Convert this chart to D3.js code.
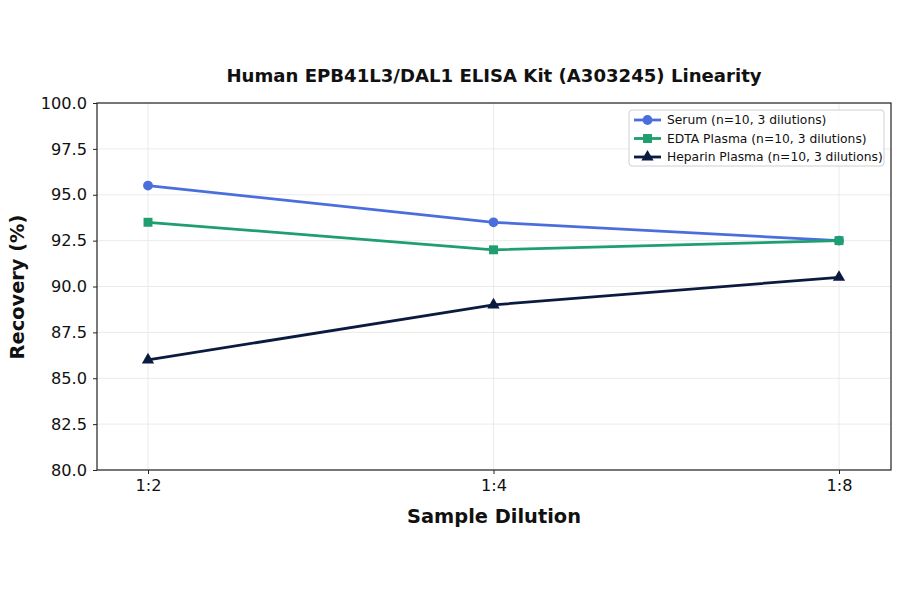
<!DOCTYPE html>
<html><head><meta charset="utf-8">
<script src="https://cdn.jsdelivr.net/npm/d3@7"></script>
<style>body{margin:0;background:#fff;}svg{font-family:"DejaVu Sans",sans-serif;}</style>
</head><body>
<svg id="c" width="900" height="594"></svg>
<script>
const categories = ["1:2","1:4","1:8"];
const serum = [95.5, 93.5, 92.5];
const edta = [93.5, 92.0, 92.5];
const heparin = [86.0, 89.0, 90.5];
const yTicks = [80.0, 82.5, 85.0, 87.5, 90.0, 92.5, 95.0, 97.5, 100.0];
const seriesNames = ["Serum (n=10, 3 dilutions)","EDTA Plasma (n=10, 3 dilutions)","Heparin Plasma (n=10, 3 dilutions)"];
const colors = ["#4a6fdc","#1f9e6f","#0b1a3f"];
const shapes = ["circle","square","triangle"];

const svg = d3.select("#c");
const L=97, R=891, T=103, B=470;
const x = d3.scalePoint().domain(categories).range([148,839]);
const y = d3.scaleLinear().domain([80,100]).range([B,T]);

// grid
svg.append("g").selectAll("line").data(yTicks).join("line")
  .attr("x1",L).attr("x2",R).attr("y1",d=>y(d)).attr("y2",d=>y(d))
  .attr("stroke","#e6e6e6").attr("stroke-width",0.8);
svg.append("g").selectAll("line").data(categories).join("line")
  .attr("x1",d=>x(d)).attr("x2",d=>x(d)).attr("y1",T).attr("y2",B)
  .attr("stroke","#e6e6e6").attr("stroke-width",0.8);

const series = [serum, edta, heparin];
const line = d3.line().x((d,i)=>x(categories[i])).y(d=>y(d));
const sym = {circle:d3.symbolCircle, square:d3.symbolSquare, triangle:d3.symbolTriangle};
const sizes = {circle:75, square:80, triangle:65};
series.forEach((s,k)=>{
  svg.append("path").datum(s).attr("d",line).attr("fill","none")
    .attr("stroke",colors[k]).attr("stroke-width",2.8);
  svg.append("g").selectAll("path").data(s).join("path")
    .attr("transform",(d,i)=>`translate(${x(categories[i])},${y(d)})`)
    .attr("d",d3.symbol().type(sym[shapes[k]]).size(sizes[shapes[k]]))
    .attr("fill",colors[k]);
});

// axes frame
svg.append("rect").attr("x",L).attr("y",T).attr("width",R-L).attr("height",B-T)
  .attr("fill","none").attr("stroke","#222").attr("stroke-width",1.2);

const ya = svg.append("g").attr("transform",`translate(${L},0)`)
  .call(d3.axisLeft(y).tickValues(yTicks).tickFormat(d3.format(".1f")).tickSize(4).tickPadding(6));
ya.select(".domain").remove();
ya.selectAll("text").attr("font-size",16.2).attr("fill","#111").attr("font-family","DejaVu Sans");
ya.selectAll("line").attr("stroke","#222");
const xa = svg.append("g").attr("transform",`translate(0,${B})`)
  .call(d3.axisBottom(x).tickSize(4).tickPadding(5));
xa.select(".domain").remove();
xa.selectAll("text").attr("font-size",16.2).attr("fill","#111").attr("font-family","DejaVu Sans");
xa.selectAll("line").attr("stroke","#222");

svg.append("text").attr("x",494).attr("y",82).attr("text-anchor","middle")
  .attr("font-size",18.1).attr("font-weight","bold").attr("fill","#111")
  .text("Human EPB41L3/DAL1 ELISA Kit (A303245) Linearity");
svg.append("text").attr("x",494).attr("y",523).attr("text-anchor","middle")
  .attr("font-size",19.4).attr("font-weight","bold").attr("fill","#111").text("Sample Dilution");
svg.append("text").attr("transform","translate(24,287) rotate(-90)").attr("text-anchor","middle")
  .attr("font-size",19.4).attr("font-weight","bold").attr("fill","#111").text("Recovery (%)");

// legend
const lg = svg.append("g").attr("transform","translate(629,110)");
lg.append("rect").attr("width",255).attr("height",56).attr("rx",3)
  .attr("fill","#fff").attr("fill-opacity",0.85).attr("stroke","#d0d0d0");
seriesNames.forEach((n,k)=>{
  const yy = 10 + k*18.5;
  lg.append("line").attr("x1",5).attr("x2",32).attr("y1",yy).attr("y2",yy)
    .attr("stroke",colors[k]).attr("stroke-width",2.8);
  lg.append("path").attr("transform",`translate(18.5,${yy})`)
    .attr("d",d3.symbol().type(sym[shapes[k]]).size(sizes[shapes[k]]))
    .attr("fill",colors[k]);
  lg.append("text").attr("x",38).attr("y",yy+4.3).attr("font-size",12.3).attr("fill","#111").text(n);
});
</script>
</body></html>
